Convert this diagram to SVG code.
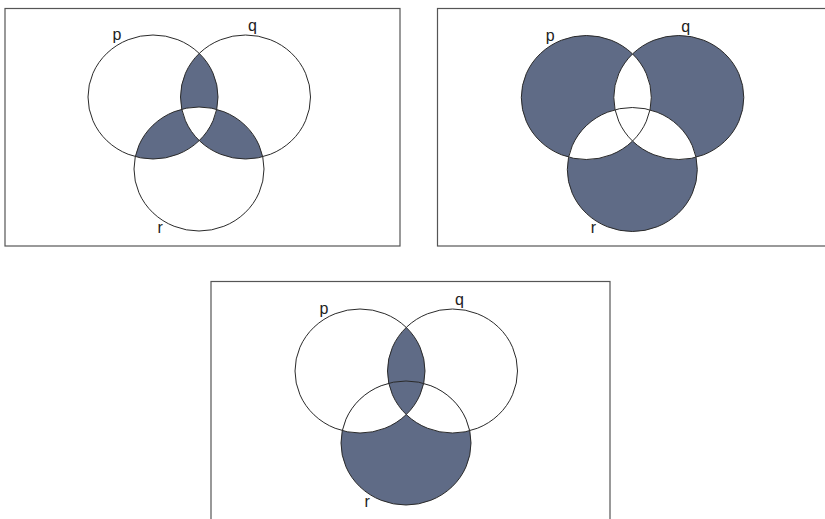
<svg xmlns="http://www.w3.org/2000/svg" xmlns:xlink="http://www.w3.org/1999/xlink" width="825" height="519" viewBox="0 0 825 519">
<style>
.frame{fill:none;stroke:#555;stroke-width:1.2}
.fill{fill:#5f6b86;stroke:none}
.white{fill:#fff;stroke:none}
.line{fill:none;stroke:#2a2a2a;stroke-width:1}
.lbl{font-family:"Liberation Sans",Arial,sans-serif;font-size:16px;fill:#222}
</style>
<defs>
<ellipse id="P" cx="153" cy="97" rx="65" ry="62"/>
<ellipse id="Q" cx="245.5" cy="97" rx="65" ry="62"/>
<ellipse id="R" cx="199" cy="169" rx="65" ry="62"/>
<clipPath id="cp"><ellipse cx="153" cy="97" rx="65" ry="62"/></clipPath>
<clipPath id="cq"><ellipse cx="245.5" cy="97" rx="65" ry="62"/></clipPath>
<clipPath id="cr"><ellipse cx="199" cy="169" rx="65" ry="62"/></clipPath>
<g id="outlines">
<use xlink:href="#P" class="line"/>
<use xlink:href="#Q" class="line"/>
<use xlink:href="#R" class="line"/>
<text class="lbl" x="112.5" y="40">p</text>
<text class="lbl" x="248" y="31">q</text>
<text class="lbl" x="157.5" y="232.5">r</text>
</g>
</defs>

<g id="panel1">
<rect class="frame" x="5" y="8.5" width="395" height="237.5"/>
<g transform="translate(0,0)">
<g clip-path="url(#cp)"><use xlink:href="#Q" class="fill"/><use xlink:href="#R" class="fill"/></g>
<g clip-path="url(#cq)"><use xlink:href="#R" class="fill"/></g>
<g clip-path="url(#cp)"><g clip-path="url(#cq)"><use xlink:href="#R" class="white"/></g></g>
<use xlink:href="#outlines"/>
</g>
</g>

<g id="panel2">
<rect class="frame" x="437.5" y="8.5" width="400" height="237.5"/>
<g transform="translate(433.3,0.5)">
<use xlink:href="#P" class="fill"/>
<use xlink:href="#Q" class="fill"/>
<use xlink:href="#R" class="fill"/>
<g clip-path="url(#cp)"><use xlink:href="#Q" class="white"/><use xlink:href="#R" class="white"/></g>
<g clip-path="url(#cq)"><use xlink:href="#R" class="white"/></g>
<use xlink:href="#outlines"/>
</g>
</g>

<g id="panel3">
<rect class="frame" x="211" y="281.5" width="399" height="250"/>
<g transform="translate(207,274)">
<use xlink:href="#R" class="fill"/>
<g clip-path="url(#cp)"><use xlink:href="#R" class="white"/></g>
<g clip-path="url(#cq)"><use xlink:href="#R" class="white"/></g>
<g clip-path="url(#cp)"><use xlink:href="#Q" class="fill"/></g>
<use xlink:href="#outlines"/>
</g>
</g>
</svg>
